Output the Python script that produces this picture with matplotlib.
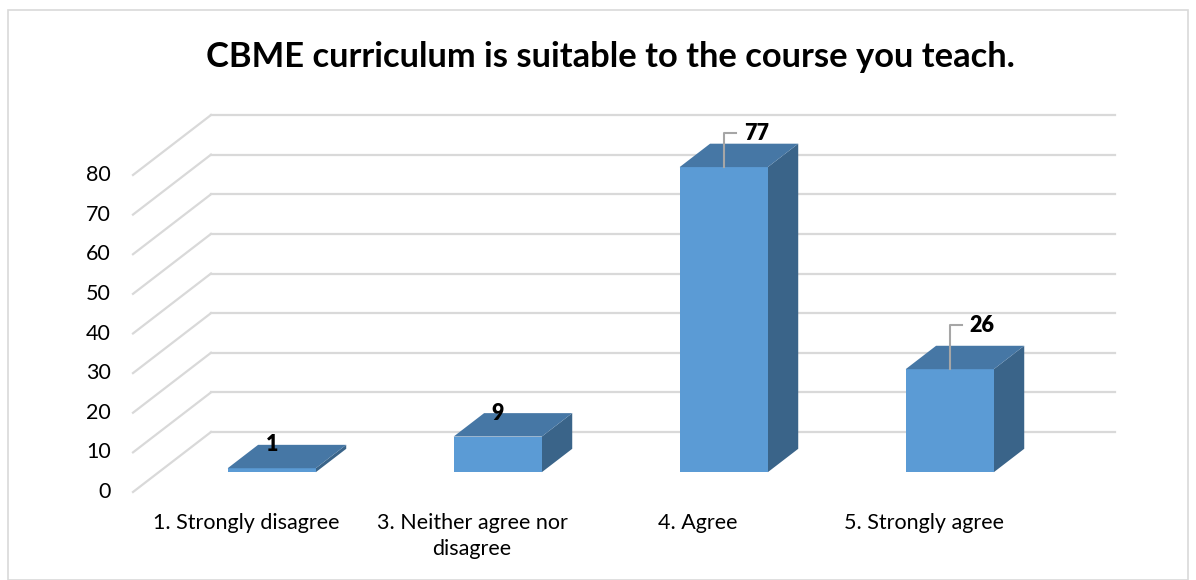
import matplotlib
matplotlib.use("Agg")
import matplotlib.pyplot as plt
from matplotlib.patches import Polygon, Rectangle

categories = ["1. Strongly disagree", "3. Neither agree nor\ndisagree", "4. Agree", "5. Strongly agree"]
counts = [1, 9, 77, 26]
yticks = [0, 10, 20, 30, 40, 50, 60, 70, 80]
title = "CBME curriculum is suitable to the course you teach."

plt.rcParams["font.family"] = ["Lato", "DejaVu Sans"]

W, H = 1196, 580
fig = plt.figure(figsize=(W / 100, H / 100), dpi=100)
fig.patch.set_facecolor("white")

# front plane of the plot area in pixels (x from left, y from top)
x0, x1 = 133, 1037
ybot, ytop = 492, 175
ax = fig.add_axes([x0 / W, 1 - ybot / H, (x1 - x0) / W, (ybot - ytop) / H])
ax.set_xlim(-0.5, 3.5)
ax.set_ylim(0, 80)
ax.axis("off")

px_x = (x1 - x0) / 4.0
px_y = (ybot - ytop) / 80.0
DX = 78 / px_x      # depth shift in category units
DY = 60 / px_y      # depth shift in value units


def proj(x, v, d):
    return (x + d * DX, v + d * DY)


grid = "#d9d9d9"
# back wall grid + left wall diagonals
for t in yticks:
    bx, by = proj(-0.5, t, 1)
    ex, _ = proj(3.5, t, 1)
    ax.plot([-0.5, bx], [t, by], color=grid, lw=1.6, clip_on=False, zorder=1)
    ax.plot([bx, ex], [by, by], color=grid, lw=1.6, clip_on=False, zorder=1)
    ax.text(-0.5 - 22 / px_x, t, str(t), ha="right", va="center", fontsize=15.5)

# bars with depth
front_c = "#5b9bd5"
top_c = "#4677a5"
side_c = "#3a6489"
bw = 0.39
fd, bd = 0.33, 0.72
for i, v in enumerate(counts):
    l, r = i - bw / 2, i + bw / 2
    front = [proj(l, 0, fd), proj(r, 0, fd), proj(r, v, fd), proj(l, v, fd)]
    top = [proj(l, v, fd), proj(r, v, fd), proj(r, v, bd), proj(l, v, bd)]
    side = [proj(r, 0, fd), proj(r, 0, bd), proj(r, v, bd), proj(r, v, fd)]
    for poly, c in ((side, side_c), (front, front_c), (top, top_c)):
        ax.add_patch(Polygon(poly, closed=True, facecolor=c, edgecolor="none",
                             clip_on=False, zorder=3))

# data labels
lift = {2: 34, 3: 44}
for i, v in enumerate(counts):
    cx, cy = proj(i, v, fd)
    if i in lift:
        h = lift[i] / px_y
        ax.plot([cx, cx, cx + 12 / px_x], [cy, cy + h, cy + h], color="#a6a6a6",
                lw=1.5, clip_on=False, zorder=4)
        ax.text(cx + 20 / px_x, cy + h, str(v), ha="left", va="center",
                fontsize=15.5, fontweight="heavy", zorder=5)
    else:
        _, ty = proj(i, v, bd)
        ax.text(cx, ty, str(v), ha="center", va="center", fontsize=15.5,
                fontweight="heavy", zorder=5)

# category labels on the front axis
for i, c in enumerate(categories):
    ax.text(i, -21 / px_y, c, ha="center", va="top", fontsize=15.5,
            linespacing=1.4)

fig.text(610 / W, 1 - 57 / H, title, ha="center", va="center", fontsize=24.8,
         fontweight="bold")

fig.add_artist(Rectangle((8 / W, 0), 1180 / W, 1 - 10 / H, transform=fig.transFigure,
                         fill=False, edgecolor="#d9d9d9", lw=1.2))

fig.savefig("out.png", dpi=100)
